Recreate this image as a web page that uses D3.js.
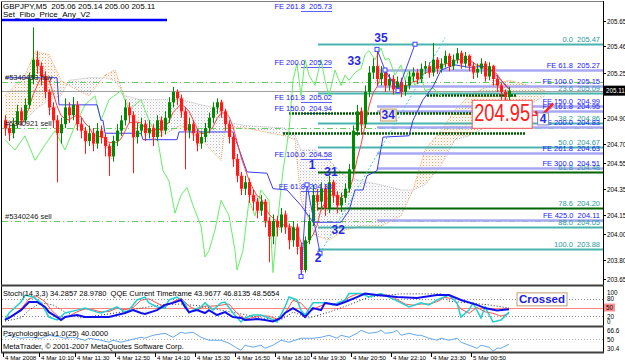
<!DOCTYPE html>
<html>
<head>
<meta charset="utf-8">
<script src="https://cdn.jsdelivr.net/npm/d3@7"></script>
<style>
  body { margin: 0; background: #fff; }
  svg { display: block; font-family: "Liberation Sans", Arial, sans-serif; }
  text { white-space: pre; }
</style>
</head>
<body>
<svg id="chart" width="625" height="363"></svg>
<script>
// ---- price bars (M5), open of each bar = previous close ----
const firstOpen = 204.88;
const closes = [204.82,204.78,204.85,204.95,204.88,205.00,205.20,205.35,205.30,205.22,
  205.10,204.98,204.88,204.78,204.85,204.98,204.92,205.00,204.85,204.80,
  204.72,204.78,204.70,204.80,204.75,204.68,204.60,204.72,204.80,204.88,
  204.98,204.92,204.75,204.80,204.85,204.78,204.82,204.75,204.88,204.80,
  204.90,205.02,205.10,205.05,204.95,204.80,204.85,204.78,204.70,204.75,
  204.82,204.90,204.98,205.02,204.95,204.85,204.75,204.58,204.45,204.35,
  204.40,204.30,204.25,204.18,204.25,204.10,203.98,204.10,204.05,204.15,
  204.05,203.95,204.05,203.90,203.72,203.95,204.10,204.30,204.25,204.35,
  204.20,204.40,204.30,204.22,204.28,204.35,204.50,204.80,204.95,204.85,
  205.10,205.25,205.30,205.20,205.25,205.15,205.20,205.12,205.18,205.10,
  205.15,205.22,205.25,205.20,205.28,205.30,205.25,205.35,205.28,205.32,
  205.38,205.30,205.35,205.40,205.32,205.38,205.30,205.25,205.28,205.32,
  205.22,205.30,205.20,205.15,205.10,205.06,205.11];
const highs = [204.92,204.86,204.90,205.00,204.98,205.05,205.25,205.60,205.42,205.33,
  205.26,205.12,205.02,204.92,204.90,205.05,205.02,205.06,205.03,204.90,
  204.83,204.84,204.82,204.86,204.84,204.78,204.70,204.76,204.85,204.92,
  205.04,205.02,204.95,204.86,204.90,204.88,204.88,204.85,204.92,204.91,
  204.95,205.06,205.14,205.12,205.08,204.98,204.90,204.88,204.81,204.80,
  204.86,204.94,205.02,205.05,205.04,204.97,204.88,204.78,204.62,204.48,
  204.45,204.43,204.34,204.28,204.30,204.27,204.13,204.15,204.14,204.20,
  204.18,204.08,204.10,204.08,203.93,203.98,204.15,204.38,204.35,204.40,
  204.38,204.45,204.42,204.33,204.32,204.39,204.54,204.84,205.00,204.98,
  205.15,205.30,205.36,205.43,205.30,205.28,205.24,205.23,205.22,205.21,
  205.19,205.26,205.29,205.28,205.32,205.34,205.33,205.48,205.37,205.36,
  205.42,205.40,205.39,205.44,205.42,205.41,205.39,205.33,205.32,205.36,
  205.34,205.33,205.31,205.23,205.17,205.12,205.14];
const lows = [204.76,204.72,204.74,204.82,204.84,204.86,204.97,205.16,205.24,205.15,
  205.05,204.92,204.82,204.40,204.70,204.82,204.86,204.88,204.80,204.74,
  204.62,204.68,204.64,204.66,204.70,204.60,204.45,204.56,204.68,204.76,
  204.84,204.86,204.47,204.70,204.76,204.72,204.74,204.68,204.72,204.75,
  204.77,204.86,204.98,205.00,204.90,204.50,204.74,204.72,204.64,204.66,
  204.71,204.78,204.86,204.93,204.90,204.80,204.70,204.52,204.40,204.30,
  204.30,204.24,204.18,204.12,204.14,204.05,203.78,203.92,203.98,204.01,
  204.00,203.88,203.90,203.84,203.67,203.70,203.92,204.06,204.18,204.20,
  204.14,204.16,204.24,204.16,204.17,204.24,204.32,204.46,204.76,204.78,
  204.82,205.06,205.20,205.15,205.15,205.10,205.11,205.08,205.09,205.06,
  205.07,205.12,205.18,205.16,205.17,205.24,205.21,205.22,205.24,205.25,
  205.29,205.26,205.27,205.32,205.28,205.29,205.26,205.20,205.21,205.24,
  205.18,205.19,205.15,205.10,205.04,205.00,205.00];

// ---- overlay lines: [bar index] / [price] ----
const kijunIdx = [0,13,13.5,23,24,24.5,25,34,34.5,43,43.5,57,60.5,65.5,67,70.5,74,77,84,86,87.5,89.5,90.5,93,94.5,101,102,104.5,107,109,112.5,116,120.5,124,126];
const kijunVal = [205.21,205.21,205.00,205.00,204.88,204.88,204.78,204.78,204.73,204.73,204.79,204.79,204.48,204.47,204.35,204.34,204.22,204.09,204.09,204.18,204.34,204.34,204.45,204.49,204.75,204.76,204.88,205.04,205.14,205.27,205.31,205.29,205.30,205.19,205.12];
const greenIdx = [0,2.5,5,7.5,10,12.5,15,17.5,20,22.5,24,26,29,31,34,36,38,39.5,41,42.5,44,45.5,47,49,50,51,52.5,54,56,57.5,58,59.5,61,62.5,64,66,67,68,69.5,71,72,73,74,75,76,77.5,79,80,81,82.5,84,85,86,87.5,89,90,91,92.5,94,95,96,97.5,99,100,101,102.5,104,105,107,109];
const greenVal = [204.73,204.65,204.76,204.57,204.69,204.80,204.65,204.84,205.00,205.07,204.88,205.04,205.11,204.96,205.04,204.88,204.76,204.49,204.41,204.16,204.30,204.36,204.22,204.06,203.82,203.87,204.03,204.26,204.14,203.87,203.72,203.87,204.26,204.14,204.34,204.26,203.70,204.06,204.49,204.80,205.19,205.32,205.07,205.35,205.23,205.15,205.35,205.19,205.07,205.27,205.15,205.23,205.19,205.25,205.28,205.39,205.42,205.35,205.44,205.35,205.36,205.23,205.31,205.19,205.27,205.15,205.23,205.11,205.13,205.07];
const cloudIdx = [0,5,7.5,11,14,16,21,25,27.5,30,34,39,44,49,54,55,60,65,70,72.5,74,77.5,81,85,89,94,99,102,105,109,112.5,116,121,126,131,135];
const spanA = [205.07,205.23,205.41,205.39,205.19,205.15,205.07,205.23,205.27,205.05,204.80,204.76,204.84,204.73,204.57,204.82,204.82,204.79,204.76,204.73,204.26,203.99,203.95,204.03,204.06,204.06,204.14,204.34,204.65,204.80,204.96,205.07,205.15,205.19,205.15,205.11];
const spanB = [204.84,204.88,204.96,205.04,205.07,205.19,205.21,205.21,205.19,205.07,205.04,205.04,205.04,205.00,204.97,204.87,204.84,204.83,204.82,204.76,204.65,204.65,204.57,204.45,204.41,204.38,204.34,204.34,204.38,204.53,204.73,204.76,204.84,204.92,205.00,205.07];

// ---- objects ----
const fibLevels = ["0.0","23.6","38.2","50.0","61.8","78.6","88.0","100.0"];
const fibPrices = [205.47,205.09,204.86,204.67,204.48,204.20,204.05,203.88];
const feRightLevels = ["61.8","100.0","150.0","161.8","200.0","261.8","300.0","425.0"];
const feRightPrices = [205.27,205.15,204.99,204.95,204.83,204.63,204.51,204.11];
const feLeftLevels = ["261.8","200.0","161.8","150.0","100.0","61.8"];
const feLeftPrices = [205.73,205.29,205.02,204.94,204.58,204.33];
const supportPrices = [205.08,204.94,204.78];
const supportFrom = [105.5,71,69.5];
const supportTo = [128,130.5,130];
const orderLabels = ["#5340453 buy","#5340921 sell","#5340246 sell"];
const orderPrices = [205.18,204.82,204.10];
const zigIdx = [74,75.5,78.75];
const zigVal = [203.67,204.38,203.85];
const zig2Idx = [93,95,98.25,102.5];
const zig2Val = [205.43,205.27,205.11,205.47];
const trendIdx = [78.75,110];
const trendVal = [203.85,205.52];
const waveText = ["35","33","34","31","1","32","2"];
const waveIdx = [94,87.3,95.8,81.5,76.8,83.3,78.3];
const waveVal = [205.49,205.31,204.89,204.45,204.50,204.00,203.78];

// ---- indicator windows ----
const stochIdx = [0,1,4,5,7,9,11,13,15,18,20,23,24,26,28,30,31,33,35,36,38,40,41,43,45,46,47,49,50,52,54,55,57,59,60,62,64,66,68,70,71,73,74,75,77,80,82,85,86,88,89,91,94,96,99,101,104,106,108,111,113,114,116,117,119,120,122,124,126];
const stochMain = [7,31,69,93,86,66,17,7,31,41,48,34,31,41,52,34,41,76,86,66,52,48,76,86,66,31,41,52,66,41,66,69,31,0,14,24,24,14,0,52,86,76,41,24,66,66,59,76,98,98,98,86,98,86,66,52,66,59,76,93,66,17,41,66,14,52,0,7,34];
const stochSignal = [10,20,45,80,88,70,35,12,20,35,45,42,35,36,48,42,50,75,80,65,52,70,82,55,40,55,55,58,62,30,10,15,22,20,10,30,75,65,35,50,62,62,65,85,97,97,92,95,92,78,62,58,62,62,70,85,80,45,30,50,35,30,20,29];
const qqeIdx = [0,1,4,6,8,10,11,13,14,15,18,20,24,26,28,30,32,34,35,38,40,42,44,45,46,48,50,51,53,55,57,59,60,63,65,67,69,70,72,74,75,77,79,80,83,85,88,90,93,98,103,108,111,114,118,120,123,126];
const qqeMain = [7,14,41,69,69,52,34,17,7,17,24,17,17,17,24,31,41,31,28,41,59,66,76,52,34,41,31,41,24,34,17,14,7,10,7,2,14,31,48,31,17,48,41,66,59,69,86,98,93,86,83,93,93,76,59,48,40,44];
const slowIdx = [0,4,6,9,12,15,19,24,29,34,39,44,49,54,59,64,69,72,76,81,86,91,99,109,111,116,121,126];
const qqeSlow = [3,14,41,66,59,34,14,24,34,48,59,62,55,41,28,14,7,34,14,34,59,86,97,97,72,66,59,48];
const psyIdx = [0,1,4,6,9,11,14,15,17,20,21,24,26,27,29,31,34,35,37,40,42,44,45,47,49,51,54,56,58,59,60,62,64,65,67,69,71,74,77,79,81,83,84,86,88,89,91,93,94,95,97,98,99,101,103,104,106,108,109,111,113,114,116,118,119,121,122,123,124,126];
const psyVal = [54,58,52,54,52,58,54,52,54,48,52,48,44,48,44,48,54,52,58,62,54,64,62,64,54,48,48,42,32,28,38,34,38,32,38,48,44,52,52,54,58,52,58,54,62,68,62,64,68,62,64,68,58,62,58,58,52,48,52,48,52,44,38,32,38,34,26,32,32,40];

// ---- axes ----
const priceTicks = [205.65,205.46,205.25,204.90,204.70,204.55,204.35,204.15,204.00,203.80,203.65];
const stochTicks = [100,80,20,0];
const psyTicks = [66.6,50,30.4];
const timeLabels = ["4 Mar 2008","4 Mar 10:10","4 Mar 11:30","4 Mar 12:50","4 Mar 14:10","4 Mar 15:30","4 Mar 16:50","4 Mar 18:10","4 Mar 19:30","4 Mar 20:50","4 Mar 22:10","4 Mar 23:30","5 Mar 00:50"];
const timeIdx = [0,9,18,28,38,48,58,68,77,87,97,107,117];

const svg = d3.select("#chart");
const L = 2, R = 603;
const mainTop = 2, mainBot = 284, stTop = 287, stBot = 326, psTop = 328, psBot = 352;
const fontS = 7.5;

const x = d3.scaleLinear().domain([0, closes.length - 1]).range([5, 509]);
const y = d3.scaleLinear().domain([203.65, 205.65]).range([279, 21]);
const yS = d3.scaleLinear().domain([0, 100]).range([322, 293]);
const yP = d3.scaleLinear().domain([30.4, 66.6]).range([349, 331]);
const crisp = v => Math.round(v) + 0.5;

svg.append("rect").attr("width", 625).attr("height", 363).attr("fill", "#fff");

const defs = svg.append("defs");
defs.append("clipPath").attr("id", "clipMain").append("rect")
  .attr("x", L).attr("y", mainTop).attr("width", R - L).attr("height", mainBot - mainTop);
defs.append("clipPath").attr("id", "clipSt").append("rect")
  .attr("x", L).attr("y", stTop).attr("width", R - L).attr("height", stBot - stTop);
defs.append("clipPath").attr("id", "clipPs").append("rect")
  .attr("x", L).attr("y", psTop).attr("width", R - L).attr("height", psBot - psTop);
function dotPattern(id, color) {
  const p = defs.append("pattern").attr("id", id).attr("width", 3).attr("height", 3)
    .attr("patternUnits", "userSpaceOnUse");
  p.append("rect").attr("width", 1).attr("height", 1).attr("fill", color);
  p.append("rect").attr("x", 1.5).attr("y", 1.5).attr("width", 1).attr("height", 1).attr("fill", color).attr("opacity", 0.6);
}
dotPattern("dotOrange", "#f4a460");
dotPattern("dotGray", "#b8b8c0");

// text with a box drawn under it (rect appended first, sized after)
function boxedText(parent, tx, ty, str, textAttrs, boxAttrs, pad) {
  const r = parent.append("rect");
  const t = parent.append("text").attr("x", tx).attr("y", ty).text(str);
  Object.entries(textAttrs).forEach(([k, v]) => t.attr(k, v));
  const b = t.node().getBBox();
  r.attr("x", b.x - pad[0]).attr("y", b.y - pad[1]).attr("width", b.width + 2 * pad[0]).attr("height", b.height + 2 * pad[1] + (pad[2] || 0));
  Object.entries(boxAttrs).forEach(([k, v]) => r.attr(k, v));
  return b;
}

const cloud = cloudIdx.map((d, k) => ({ i: d, a: spanA[k], b: spanB[k] }));
defs.append("clipPath").attr("id", "aboveB").append("path")
  .attr("d", d3.area().x(d => x(d.i)).y0(0).y1(d => y(d.b))(cloud));
defs.append("clipPath").attr("id", "belowB").append("path")
  .attr("d", d3.area().x(d => x(d.i)).y0(400).y1(d => y(d.b))(cloud));

const gMain = svg.append("g").attr("clip-path", "url(#clipMain)");

// cloud
const areaAB = d3.area().x(d => x(d.i)).y0(d => y(d.a)).y1(d => y(d.b));
gMain.append("g").attr("clip-path", "url(#aboveB)").append("path")
  .attr("d", areaAB(cloud)).attr("fill", "url(#dotOrange)");
gMain.append("g").attr("clip-path", "url(#belowB)").append("path")
  .attr("d", areaAB(cloud)).attr("fill", "url(#dotGray)");
gMain.append("path").attr("d", d3.line().x(d => x(d.i)).y(d => y(d.a))(cloud))
  .attr("fill", "none").attr("stroke", "#f4a460").attr("stroke-dasharray", "1,1");
gMain.append("path").attr("d", d3.line().x(d => x(d.i)).y(d => y(d.b))(cloud))
  .attr("fill", "none").attr("stroke", "#b8b8c0").attr("stroke-dasharray", "1,1");

// order lines and bid line
orderPrices.forEach(p => {
  gMain.append("line").attr("x1", L).attr("x2", R).attr("y1", crisp(y(p))).attr("y2", crisp(y(p)))
    .attr("stroke", "#66cc66").attr("stroke-dasharray", "6,3,1,3");
});
const lastClose = closes[closes.length - 1];
gMain.append("line").attr("x1", L).attr("x2", R).attr("y1", crisp(y(lastClose))).attr("y2", crisp(y(lastClose)))
  .attr("stroke", "#a0a0a0");

// fibo retracement lines
fibPrices.forEach((p, k) => {
  const dark = fibLevels[k] === "61.8" || fibLevels[k] === "78.6";
  gMain.append("line").attr("x1", x(78.25)).attr("x2", R).attr("y1", crisp(y(p))).attr("y2", crisp(y(p)))
    .attr("stroke", dark ? "#006400" : "#2aa8a0").attr("stroke-width", 2).attr("opacity", dark ? 1 : 0.85);
});
// fibo expansion (right)
feRightPrices.forEach(p => {
  gMain.append("line").attr("x1", x(93)).attr("x2", R).attr("y1", crisp(y(p))).attr("y2", crisp(y(p)))
    .attr("stroke", "#a8a8f4").attr("stroke-width", 2.5);
});
// fibo expansion (left)
feLeftPrices.forEach(p => {
  gMain.append("line").attr("x1", x(74)).attr("x2", x(81.75)).attr("y1", crisp(y(p))).attr("y2", crisp(y(p)))
    .attr("stroke", "#6060ff");
});
// support lines
supportPrices.forEach((p, k) => {
  gMain.append("line").attr("x1", x(supportFrom[k])).attr("x2", x(supportTo[k])).attr("y1", crisp(y(p))).attr("y2", crisp(y(p)))
    .attr("stroke", "#005a00").attr("stroke-width", 2.5).attr("stroke-dasharray", "2,1");
});

// green line, kijun, moving average
gMain.append("path")
  .attr("d", d3.line().x((d, k) => x(greenIdx[k])).y(d => y(d))(greenVal))
  .attr("fill", "none").attr("stroke", "#66ee66").attr("stroke-width", 1);
gMain.append("path")
  .attr("d", d3.line().x((d, k) => x(kijunIdx[k])).y(d => y(d))(kijunVal))
  .attr("fill", "none").attr("stroke", "#3a3af0").attr("stroke-width", 1);

const bars = closes.map((c, i) => ({ i, o: i ? closes[i - 1] : firstOpen, h: highs[i], l: lows[i], c }));
const ma = bars.map((d, i) => ({ i, v: i < 4 ? null : d3.mean(closes.slice(i - 4, i + 1)) }));
gMain.append("path")
  .attr("d", d3.line().defined(d => d.v !== null).x(d => x(d.i)).y(d => y(d.v))(ma))
  .attr("fill", "none").attr("stroke", "#ff4040").attr("stroke-width", 1);

// candles
const cg = gMain.append("g");
bars.forEach(d => {
  const up = d.c >= d.o;
  const xc = Math.round(x(d.i));
  const col = up ? "#008a00" : "#ff1a1a";
  const top = y(Math.max(d.o, d.c)), h = Math.max(1, y(Math.min(d.o, d.c)) - top);
  if (!up) {
    cg.append("rect").attr("x", xc - 0.5).attr("y", top - 1).attr("width", 3).attr("height", h + 3)
      .attr("fill", "none").attr("stroke", "#ffa0a0").attr("stroke-dasharray", "1,1");
  }
  cg.append("rect").attr("x", xc).attr("y", y(d.h)).attr("width", 1).attr("height", y(d.l) - y(d.h)).attr("fill", col);
  cg.append("rect").attr("x", xc - 1).attr("y", top).attr("width", 3).attr("height", h).attr("fill", col);
});

// wave zigzags, trend line, markers
const lineIdx = d3.line().x(d => x(d[0])).y(d => y(d[1]));
gMain.append("path").attr("d", lineIdx(d3.zip(trendIdx, trendVal)))
  .attr("fill", "none").attr("stroke", "#40d0d0").attr("stroke-dasharray", "2,2");
[[zigIdx, zigVal], [zig2Idx, zig2Val]].forEach(([ix, vv]) => {
  const pts = d3.zip(ix, vv);
  gMain.append("path").attr("d", lineIdx(pts)).attr("fill", "none").attr("stroke", "#4040ff");
  pts.forEach(p => {
    gMain.append("rect").attr("x", x(p[0]) - 2).attr("y", y(p[1]) - 2).attr("width", 4).attr("height", 4)
      .attr("fill", "#fff").attr("stroke", "#4040ff");
  });
});

// labels in main window
const gl = svg.append("g").attr("clip-path", "url(#clipMain)").attr("font-size", fontS);
fibPrices.forEach((p, k) => {
  gl.append("text").attr("x", 600).attr("y", y(p) - 2).attr("text-anchor", "end")
    .attr("fill", "#2a9a9a").text(`${fibLevels[k]}  ${p.toFixed(2)}`);
});
feRightPrices.forEach((p, k) => {
  gl.append("text").attr("x", 600).attr("y", y(p) - 2).attr("text-anchor", "end")
    .attr("fill", "#2020ff").text(`FE ${feRightLevels[k]}  ${p.toFixed(2)}`);
});
feLeftPrices.forEach((p, k) => {
  gl.append("text").attr("x", x(81.75)).attr("y", y(p) - 2).attr("text-anchor", "end")
    .attr("fill", "#2020ff").text(`FE ${feLeftLevels[k]}  ${p.toFixed(2)}`);
});
orderPrices.forEach((p, k) => {
  gl.append("text").attr("x", 5).attr("y", y(p) - 2).attr("fill", "#202020").text(orderLabels[k]);
});
const waveStyle = { "text-anchor": "middle", "font-size": 12, "font-weight": "bold", fill: "#2a2ae0" };
waveText.forEach((t, k) => {
  if (t === "34") {
    boxedText(gl, x(waveIdx[k]), y(waveVal[k]), t, waveStyle, { fill: "#f4efe4", stroke: "#c0a070" }, [1, -1]);
  } else {
    const tx = gl.append("text").attr("x", x(waveIdx[k])).attr("y", y(waveVal[k])).text(t);
    Object.entries(waveStyle).forEach(([a, v]) => tx.attr(a, v));
  }
});

// big price label with check mark and wave 4
const bb = boxedText(gl, x(117.3), y(204.95) + 10, "204.95",
  { "font-size": 23, fill: "#ff2020", "font-family": "'Liberation Sans Narrow', 'Liberation Sans', sans-serif", textLength: 56, lengthAdjust: "spacingAndGlyphs" },
  { fill: "#fff", stroke: "#ff5050" }, [2, 0, 2]);
const bxR = bb.x + bb.width + 2;
gl.append("line").attr("x1", bxR).attr("x2", bxR + 8).attr("y1", y(204.95) + 4).attr("y2", y(204.95) + 4)
  .attr("stroke", "#ff2020").attr("stroke-width", 1.5);
gl.append("path").attr("d", `M${bxR + 3},${y(204.95)} l5,6 l13,-14`)
  .attr("fill", "none").attr("stroke", "#ff2020").attr("stroke-width", 2.5);
boxedText(gl, x(134.5), y(204.86), "4", waveStyle, { fill: "#fff", stroke: "#8080c0" }, [2, -1]);

// header
svg.append("text").attr("x", 3).attr("y", 9).attr("font-size", 8).attr("fill", "#000")
  .text("GBPJPY,M5  205.06 205.14 205.00 205.11");
svg.append("text").attr("x", 3).attr("y", 17).attr("font-size", 8).attr("fill", "#000")
  .text("Set_Fibo_Price_Any_V2");
svg.append("line").attr("x1", L).attr("x2", 167).attr("y1", 20).attr("y2", 20)
  .attr("stroke", "#0000ff").attr("stroke-width", 2.5);

// ---- stochastic / QQE window ----
const gS = svg.append("g").attr("clip-path", "url(#clipSt)");
[80, 20].forEach(v => gS.append("line").attr("x1", L).attr("x2", R).attr("y1", crisp(yS(v))).attr("y2", crisp(yS(v)))
  .attr("stroke", "#909090").attr("stroke-dasharray", "1,2"));
gS.append("line").attr("x1", L).attr("x2", R).attr("y1", crisp(yS(50))).attr("y2", crisp(yS(50)))
  .attr("stroke", "#ff8080");
gS.append("path").attr("d", d3.line().x((d, k) => x(slowIdx[k])).y(d => yS(d))(qqeSlow))
  .attr("fill", "none").attr("stroke", "#303030").attr("stroke-dasharray", "1,2");
gS.append("path").attr("d", d3.line().x((d, k) => x(k * 2)).y(d => yS(d))(stochSignal))
  .attr("fill", "none").attr("stroke", "#ff5050").attr("stroke-width", 1);
gS.append("path").attr("d", d3.line().x((d, k) => x(stochIdx[k])).y(d => yS(d))(stochMain))
  .attr("fill", "none").attr("stroke", "#20d0d0").attr("stroke-width", 1.5);
gS.append("path").attr("d", d3.line().x((d, k) => x(qqeIdx[k])).y(d => yS(d))(qqeMain))
  .attr("fill", "none").attr("stroke", "#1010ee").attr("stroke-width", 2);
svg.append("text").attr("x", 3).attr("y", stTop + 9).attr("font-size", fontS)
  .text("Stoch(14,3,3) 34.2857 28.9780  QQE Current Timeframe 43.9677 46.8135 48.5654");
boxedText(svg, x(128.5), yS(66), "Crossed",
  { "font-size": 11.5, "font-weight": "bold", fill: "#2020e0" },
  { fill: "#fff", stroke: "#c0a070" }, [2, 0, 1]);

// ---- psychological window ----
const gP = svg.append("g").attr("clip-path", "url(#clipPs)");
gP.append("line").attr("x1", L).attr("x2", R).attr("y1", crisp(yP(50))).attr("y2", crisp(yP(50)))
  .attr("stroke", "#b0b0b0").attr("stroke-dasharray", "1,2");
gP.append("path").attr("d", d3.line().x((d, k) => x(psyIdx[k])).y(d => yP(d))(psyVal))
  .attr("fill", "none").attr("stroke", "#66a8ee");
svg.append("text").attr("x", 3).attr("y", psTop + 8).attr("font-size", fontS).text("Psychological-v1.0(25) 40.0000");
svg.append("text").attr("x", 3).attr("y", psBot - 3).attr("font-size", fontS).text("MetaTrader, © 2001-2007 MetaQuotes Software Corp.");

// ---- frames ----
const fr = svg.append("g").attr("stroke", "#000");
fr.append("line").attr("x1", 1.5).attr("x2", 1.5).attr("y1", 1).attr("y2", psBot);
fr.append("line").attr("x1", R + 0.5).attr("x2", R + 0.5).attr("y1", 1).attr("y2", psBot + 1);
fr.append("line").attr("x1", 1).attr("x2", R).attr("y1", 1.5).attr("y2", 1.5).attr("stroke", "#808080");
[mainBot + 1.5, stBot + 0.5, psBot + 0.5].forEach(v =>
  fr.append("line").attr("x1", 1).attr("x2", R + 1).attr("y1", v).attr("y2", v).attr("stroke-width", 2).attr("stroke", "#404040"));

// ---- right axes ----
const axFont = 6.3;
const ax = svg.append("g").attr("font-size", axFont).attr("fill", "#000");
priceTicks.forEach(p => {
  const yy = crisp(y(p));
  ax.append("line").attr("x1", R).attr("x2", R + 3).attr("y1", yy).attr("y2", yy).attr("stroke", "#000");
  ax.append("text").attr("x", R + 4).attr("y", yy + 2.3).text(p.toFixed(2));
});
ax.append("rect").attr("x", R + 1).attr("y", y(lastClose) - 5).attr("width", 21).attr("height", 10).attr("fill", "#000");
ax.append("text").attr("x", R + 3).attr("y", y(lastClose) + 2.3).attr("fill", "#fff").text(lastClose.toFixed(2));
stochTicks.forEach(v => {
  ax.append("text").attr("x", R + 4).attr("y", yS(v) + 2.3).text(v);
});
ax.append("rect").attr("x", R + 1).attr("y", yS(50) - 4).attr("width", 11).attr("height", 8).attr("fill", "#ff9090");
ax.append("text").attr("x", R + 3).attr("y", yS(50) + 2.3).text("50");
psyTicks.forEach(v => {
  ax.append("text").attr("x", R + 4).attr("y", yP(v) + 2.3).text(v);
});

// ---- time axis ----
timeIdx.forEach((ti, k) => {
  const xx = Math.round(x(ti)) - 1.5;
  svg.append("line").attr("x1", xx).attr("x2", xx).attr("y1", psBot + 1).attr("y2", psBot + 5).attr("stroke", "#000");
  svg.append("text").attr("x", xx + 1.5).attr("y", 360).attr("font-size", 6.2).text(timeLabels[k]);
});
</script>
</body>
</html>
